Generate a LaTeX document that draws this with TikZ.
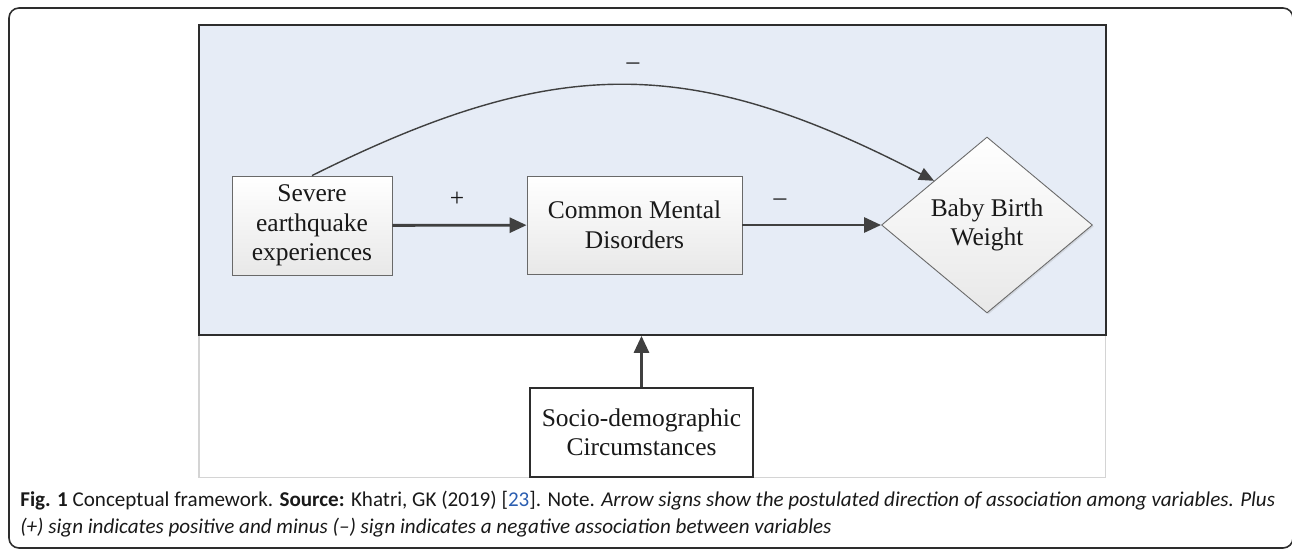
\documentclass[tikz,border=0pt]{standalone}
\usepackage{fontspec}
\setmainfont{Liberation Serif}
\newfontfamily\capfont{Carlito}
\usetikzlibrary{arrows.meta,positioning,shapes.geometric,shadows}
\definecolor{panelblue}{RGB}{230,236,246}
\definecolor{framegrey}{RGB}{212,212,212}
\definecolor{darkline}{RGB}{45,45,45}
\definecolor{arrowgrey}{RGB}{64,64,64}
\definecolor{boxedge}{RGB}{105,105,105}
\definecolor{linkblue}{RGB}{42,93,176}
\tikzset{
  base/.style={font=\fontsize{14.5}{16.8}\selectfont, align=center, inner sep=2pt, text=black!90},
  box/.style={base, rectangle, draw=boxedge, line width=0.5pt, top color=white, bottom color=black!9,
    drop shadow={opacity=0.2, shadow xshift=0.8pt, shadow yshift=-0.8pt}},
  dia/.style={box, diamond, inner sep=0pt},
  plainbox/.style={base, rectangle, draw=darkline, fill=white, line width=0.9pt},
  panel/.style={rectangle, draw=darkline, fill=panelblue, line width=1.1pt, inner sep=0pt},
  figframe/.style={rectangle, draw=framegrey, line width=0.9pt, inner sep=0pt},
  outer/.style={draw=darkline, line width=0.9pt, rounded corners=0.2cm},
  arr/.style={-{Triangle[length=0.34cm,width=0.3cm]}, line width=1.6pt, draw=arrowgrey},
  arrthin/.style={-{Triangle[length=0.3cm,width=0.26cm]}, line width=0.8pt, draw=arrowgrey},
  sign/.style={base, inner sep=1pt},
  caption/.style={font=\capfont\fontsize{12}{14.7}\selectfont, inner sep=0pt, anchor=base west, text=black!90},
}
\begin{document}
\begin{tikzpicture}[x=0.02cm,y=-0.02cm]
  \useasboundingbox (0,0) rectangle (1292,548);
  \draw[outer] (9,8) rectangle (1293,548);
  % figure area
  \node[figframe,minimum width=18.14cm,minimum height=9.06cm,anchor=north west] (fig) at (198,24) {};
  \node[panel,minimum width=18.14cm,minimum height=6.2cm,anchor=north west] (panel) at (198,24) {};
  % variables
  \node[box,minimum width=3.2cm,minimum height=1.98cm] (sev) at (312,225.5) {Severe\\earthquake\\experiences};
  \node[box,minimum width=4.3cm,minimum height=1.96cm] (cmd) at (634.5,225) {Common Mental\\Disorders};
  \node[dia,minimum width=4.22cm,minimum height=3.52cm] (bbw) at (987,225) {Baby Birth\\Weight};
  \node[plainbox,minimum width=4.46cm,minimum height=1.78cm] (soc) at (641.5,432.5) {Socio-demographic\\Circumstances};
  % paths
  \draw[arr] (sev) -- (cmd);
  \draw[arr] (cmd) -- (bbw);
  \draw[arrthin] (sev.north) .. controls (556,54) and (690,54) .. (bbw.north west);
  \draw[arr] (soc) -- (soc.north |- panel.south);
  % signs
  \node[sign] (plus) at (457,199) {+};
  \node[sign] (minusa) at (780,202) {\textendash};
  \node[sign] (minusb) at (633,66) {\textendash};
  % caption
  \node[caption] (cap1) at (20,506) {\textbf{Fig. 1} Conceptual framework. \textbf{Source:} Khatri, GK (2019) [\textcolor{linkblue}{23}]. Note. \textit{Arrow signs show the postulated direction of association among variables. Plus}};
  \node[caption] (cap2) at (20,533) {\textit{(+) sign indicates positive and minus (\textendash) sign indicates a negative association between variables}};
\end{tikzpicture}
\end{document}
